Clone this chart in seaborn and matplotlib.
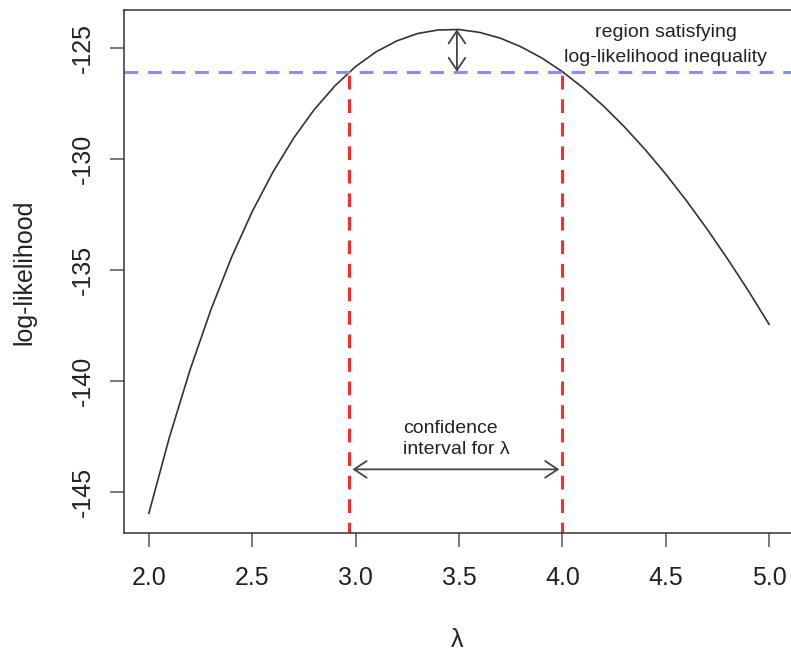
import matplotlib
matplotlib.use("Agg")
import matplotlib.pyplot as plt
import seaborn as sns
import pandas as pd

# log-likelihood curve
lam = [2.0, 2.1, 2.2, 2.3, 2.4, 2.5, 2.6, 2.7, 2.8, 2.9,
       3.0, 3.1, 3.2, 3.3, 3.4, 3.5, 3.6, 3.7, 3.8, 3.9,
       4.0, 4.1, 4.2, 4.3, 4.4, 4.5, 4.6, 4.7, 4.8, 4.9, 5.0]
loglik = [-145.99, -142.54, -139.50, -136.81, -134.44, -132.38, -130.60,
          -129.07, -127.78, -126.71, -125.84, -125.17, -124.68, -124.35,
          -124.19, -124.17, -124.30, -124.56, -124.95, -125.45, -126.07,
          -126.80, -127.63, -128.56, -129.58, -130.69, -131.89, -133.17,
          -134.53, -135.96, -137.47]

loglik_max = -124.16
cutoff = -126.08           # max minus 1.92
ci_bounds = [2.97, 4.00]
peak_lam = 3.49
ci_arrow_y = -144.0

x_ticks = [2.0, 2.5, 3.0, 3.5, 4.0, 4.5, 5.0]
y_ticks = [-125, -130, -135, -140, -145]

df = pd.DataFrame({"lambda": lam, "loglik": loglik})

sns.set_theme(style="white")
plt.rcParams["font.family"] = ["Liberation Sans", "DejaVu Sans"]

fig = plt.figure(figsize=(7.91, 6.53), dpi=100)
ax = fig.add_axes([124 / 791, (653 - 533) / 653, (794 - 124) / 791, (533 - 10) / 653])

sns.lineplot(data=df, x="lambda", y="loglik", ax=ax, color="#333333", lw=1.2)

ax.axhline(cutoff, color="#8c8cff", lw=2.2, dashes=(4.5, 3.2))
for b in ci_bounds:
    ax.plot([b, b], [-147, cutoff], color="#ff2a2a", lw=2.2, dashes=(4.5, 3.2))

arrow = dict(arrowstyle="<->,head_length=0.45,head_width=0.3", color="#444444",
             lw=1.3, shrinkA=0, shrinkB=0, mutation_scale=20)
ax.annotate("", xy=(peak_lam, loglik_max), xytext=(peak_lam, cutoff),
            arrowprops=arrow, annotation_clip=False)
ax.annotate("", xy=(2.985, ci_arrow_y), xytext=(3.985, ci_arrow_y),
            arrowprops=arrow, annotation_clip=False)

ax.text(4.5, -124.50, "region satisfying", ha="center", va="baseline",
        fontsize=14, color="#222222")
ax.text(4.5, -125.63, "log-likelihood inequality", ha="center", va="baseline",
        fontsize=14, color="#222222")
ax.text(3.23, -142.34, "confidence", ha="left", va="baseline",
        fontsize=14, color="#222222")
ax.text(3.23, -143.33, "interval for λ", ha="left", va="baseline",
        fontsize=14, color="#222222")

ax.set_xlim(1.88, 5.12)
ax.set_ylim(-146.87, -123.29)
ax.set_xticks(x_ticks)
ax.set_xticklabels([f"{t:.1f}" for t in x_ticks])
ax.set_yticks(y_ticks)
ax.set_yticklabels([str(t) for t in y_ticks])
ax.set_xlabel("")
ax.set_ylabel("")

ax.tick_params(axis="both", direction="out", length=10, width=1.1, color="#555555",
               labelsize=18, labelcolor="#222222")
ax.tick_params(axis="x", pad=14, bottom=True)
ax.tick_params(axis="y", pad=11, left=True, labelrotation=90)
for lbl in ax.get_yticklabels():
    lbl.set_va("center")

for s in ax.spines.values():
    s.set_color("#333333")
    s.set_linewidth(1.1)

fig.text(24 / 791, (653 - 272) / 653, "log-likelihood", rotation=90,
         ha="center", va="center", fontsize=18, color="#222222")
fig.text(457 / 791, (653 - 640) / 653, "λ", ha="center", va="center",
         fontsize=18, color="#222222")

fig.savefig("out.png", dpi=100)
